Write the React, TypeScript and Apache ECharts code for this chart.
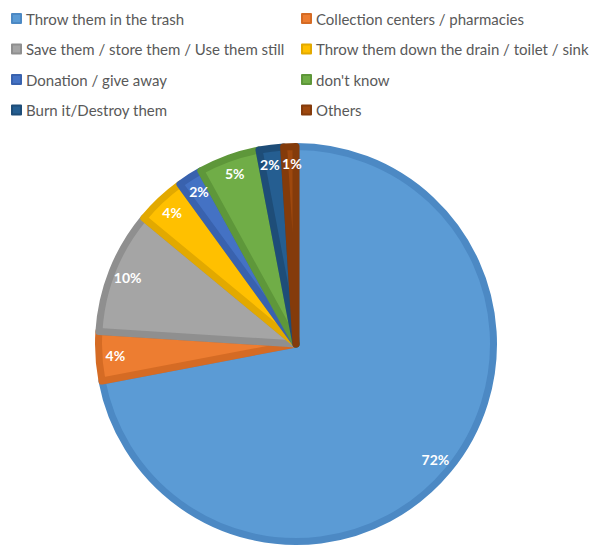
import React, { useEffect, useRef } from "react";
import * as echarts from "echarts";

const categories = [
  "Throw them in the trash",
  "Collection centers / pharmacies",
  "Save them / store them / Use them still",
  "Throw them down the drain / toilet / sink",
  "Donation / give away",
  "don't know",
  "Burn it/Destroy them",
  "Others",
];
const values = [72, 4, 10, 4, 2, 5, 2, 1];
const fillColors = ["#5B9BD5", "#ED7D31", "#A5A5A5", "#FFC000", "#4472C4", "#70AD47", "#255E91", "#9E480E"];
const borderColors = ["#4C89C4", "#D56B24", "#8F8F8F", "#E2A900", "#3962AE", "#5E973A", "#1E4D78", "#843B0B"];
const leftLegend = [categories[0], categories[2], categories[4], categories[6]];
const rightLegend = [categories[1], categories[3], categories[5], categories[7]];

export default function App() {
  const ref = useRef<HTMLDivElement>(null);
  useEffect(() => {
    const chart = echarts.init(ref.current!, undefined, { renderer: "svg" });
    const center = [296, 344];
    const legendBase = {
      orient: "vertical",
      top: 11,
      padding: 0,
      itemWidth: 9,
      itemHeight: 9,
      itemGap: 15.5,
      icon: "rect",
      selectedMode: false,
      textStyle: { fontFamily: "Lato", fontSize: 15, lineHeight: 15, color: "#595959" },
    };
    // small horizontal nudges (via padding) so the two adjacent tiny-slice labels sit side by side
    const labelPad: Record<number, number[]> = { 6: [0, 7, 0, 0], 7: [0, 0, 0, 3] };
    chart.setOption({
      animation: false,
      legend: [
        { ...legendBase, left: 11, data: leftLegend },
        { ...legendBase, left: 301, data: rightLegend },
      ],
      series: [
        {
          type: "pie",
          center,
          radius: [0, 197.5],
          startAngle: 90,
          clockwise: true,
          label: { show: false },
          labelLine: { show: false },
          emphasis: { disabled: true },
          data: categories.map((name, i) => ({
            name,
            value: values[i],
            itemStyle: { color: fillColors[i], borderColor: borderColors[i], borderWidth: 7 },
          })),
        },
        {
          type: "sunburst",
          center,
          radius: [0, 362],
          startAngle: 90,
          clockwise: true,
          sort: null,
          nodeClick: false,
          silent: true,
          emphasis: { disabled: true },
          itemStyle: { color: "transparent", borderWidth: 0, opacity: 1 },
          label: {
            show: true,
            position: "inside",
            rotate: 0,
            align: "center",
            formatter: (p: any) => p.value + "%",
            color: "#ffffff",
            fontFamily: "Lato",
            fontWeight: "bold",
            fontSize: 14,
          },
          data: categories.map((name, i) => ({
            name: name + " ",
            value: values[i],
            itemStyle: { color: "transparent" },
            ...(labelPad[i] ? { label: { padding: labelPad[i] } } : {}),
          })),
        },
      ],
    });
    return () => chart.dispose();
  }, []);
  return (
    <div
      ref={ref}
      style={{ position: "fixed", left: 0, top: 0, width: 589, height: 546, background: "#fff" }}
    />
  );
}
